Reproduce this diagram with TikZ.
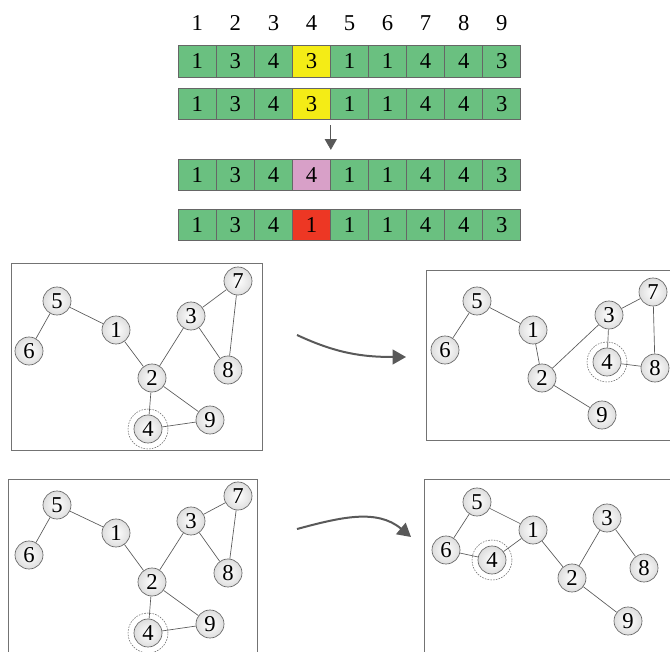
\documentclass[tikz,border=0pt]{standalone}
\usepackage{fontspec}
\setmainfont{Liberation Serif}
\usetikzlibrary{arrows.meta}

\definecolor{cellgreen}{RGB}{106,192,128}
\definecolor{cellyellow}{RGB}{244,236,22}
\definecolor{cellpink}{RGB}{216,160,200}
\definecolor{cellred}{RGB}{237,55,36}

% one row of nine genes, the 4th one coloured
\newcommand{\generow}[4]{%
  \foreach \v [count=\i] in {#3} {
    \ifnum\i=4 \def\cc{#4}\else\def\cc{cellgreen}\fi
    \node[cell, fill=\cc] (#1c\i) at ({178.3+38.05*(\i-0.5)}, #2) {\v};
  }}

\begin{document}
\begin{tikzpicture}[x=0.75pt, y=-0.75pt,
  font=\fontsize{17}{20}\selectfont,
  cell/.style={draw=black!60, line width=0.5pt, minimum width=28.5pt,
    minimum height=23.7pt, inner sep=0pt},
  vert/.style={circle, draw=black!60, line width=0.5pt, inner color=white,
    outer color=black!13, minimum size=21pt, inner sep=0pt},
  ring/.style={circle, draw=black!60, line width=0.4pt,
    dash pattern=on 1.2pt off 0.9pt, minimum size=30pt, inner sep=0pt},
  link/.style={draw=black!65, line width=0.5pt},
  panel/.style={draw=black!55, line width=0.6pt},
  shiftarrow/.style={draw=black!65, line width=1.5pt,
    -{Triangle[length=10pt,width=11pt]}},
]
\useasboundingbox (0,0) rectangle (670,652);

% gene positions
\foreach \i in {1,...,9}
  \node (h\i) at ({178.3+38.05*(\i-0.5)}, 23) {\i};

\generow{r1}{61.5}{1,3,4,3,1,1,4,4,3}{cellyellow}
\generow{r2}{104}{1,3,4,3,1,1,4,4,3}{cellyellow}
\generow{r3}{175}{1,3,4,4,1,1,4,4,3}{cellpink}
\generow{r4}{225}{1,3,4,1,1,1,4,4,3}{cellred}

\draw[draw=black!65, line width=0.6pt, -{Triangle[length=8pt,width=9pt]}]
  ([yshift=-3.75pt]r2c4.south east) -- ([yshift=6.75pt]r3c4.north east);

% frames
\draw[panel] (11,263) rectangle (262,450);
\draw[panel] (426,270) rectangle (690,440);
\draw[panel] (8,479) rectangle (257,690);
\draw[panel] (424,479) rectangle (690,690);

% graph before the move (top)
\foreach \n/\x/\y in {5/57/301, 6/29/351, 1/116/330, 3/191/316, 7/238/281,
                      8/228/370, 2/152/378, 9/210/420, 4/148/429}
  \node[vert] (a\n) at (\x,\y) {\n};
\node[ring] (a4r) at (a4) {};
\foreach \u/\w in {5/6, 5/1, 1/2, 2/3, 3/7, 7/8, 3/8, 2/4, 2/9, 4/9}
  \draw[link] (a\u) -- (a\w);

% graph after moving 4 into community 4
\foreach \n/\x/\y in {5/477/301, 6/445/350, 1/533/330, 3/609/315, 7/653/292,
                      8/655/368, 2/542/378, 9/602/415, 4/607/362}
  \node[vert] (b\n) at (\x,\y) {\n};
\node[ring] (b4r) at (b4) {};
\foreach \u/\w in {5/6, 5/1, 1/2, 2/3, 3/7, 7/8, 3/4, 4/8, 2/9}
  \draw[link] (b\u) -- (b\w);

% graph before the move (bottom)
\foreach \n/\x/\y in {5/57/505, 6/29/555, 1/116/533, 3/191/521, 7/238/496,
                      8/228/573, 2/152/582, 9/210/624, 4/148/633}
  \node[vert] (c\n) at (\x,\y) {\n};
\node[ring] (c4r) at (c4) {};
\foreach \u/\w in {5/6, 5/1, 1/2, 2/3, 3/7, 7/8, 3/8, 2/4, 2/9, 4/9}
  \draw[link] (c\u) -- (c\w);

% graph after moving 4 into community 1
\foreach \n/\x/\y in {5/477/502, 6/446/550, 4/492/560, 1/533/530, 3/607/518,
                      8/644/568, 2/572/578, 9/628/621}
  \node[vert] (d\n) at (\x,\y) {\n};
\node[ring] (d4r) at (d4) {};
\foreach \u/\w in {5/6, 5/1, 6/4, 4/1, 1/2, 2/3, 3/8, 2/9}
  \draw[link] (d\u) -- (d\w);

% mutation arrows
\coordinate (m1s) at (297,335);
\coordinate (m1e) at (406,357);
\coordinate (m2s) at (297,529);
\coordinate (m2e) at (411,537);
\draw[shiftarrow] (m1s) to[out=-25, in=180] (m1e);
\draw[shiftarrow] (m2s) to[out=15, in=140] (m2e);
\end{tikzpicture}
\end{document}
